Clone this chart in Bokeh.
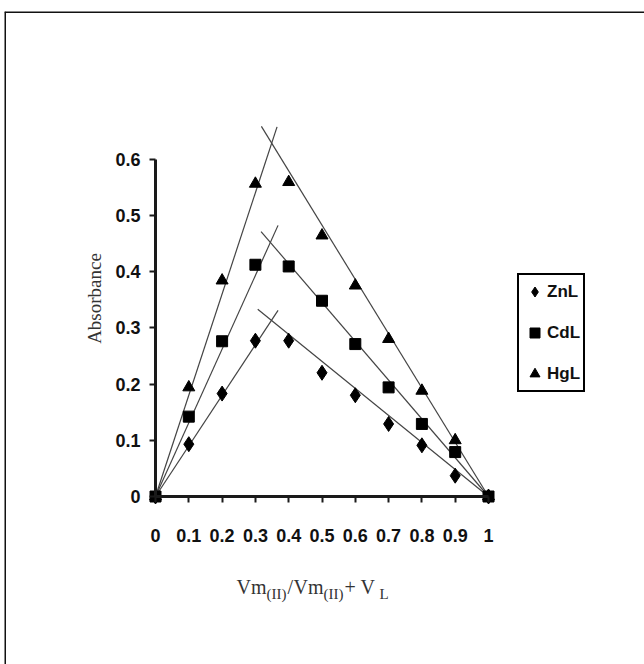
import math
from bokeh.plotting import figure
from bokeh.models import Range1d, FixedTicker, Legend, LegendItem, Label, Span
from bokeh.embed import file_html
from bokeh.resources import INLINE

# ---------------- data ----------------
mole_fraction = [0, 0.1, 0.2, 0.3, 0.4, 0.5, 0.6, 0.7, 0.8, 0.9, 1.0]
znl = [0, 0.093, 0.183, 0.277, 0.277, 0.220, 0.180, 0.129, 0.091, 0.037, 0]
cdl = [0, 0.142, 0.276, 0.412, 0.409, 0.348, 0.271, 0.194, 0.129, 0.079, 0]
hgl = [0, 0.194, 0.384, 0.556, 0.559, 0.464, 0.375, 0.280, 0.188, 0.100, 0]

# fitted straight lines (endpoints)
zn_rise_x, zn_rise_y = [0, 0.368], [0, 0.331]
zn_fall_x, zn_fall_y = [0.307, 1.0], [0.333, 0]
cd_rise_x, cd_rise_y = [0, 0.368], [0, 0.482]
cd_fall_x, cd_fall_y = [0.317, 1.0], [0.471, 0]
hg_rise_x, hg_rise_y = [0, 0.365], [0, 0.657]
hg_fall_x, hg_fall_y = [0.318, 1.0], [0.658, 0]

x_ticks = [0, 0.1, 0.2, 0.3, 0.4, 0.5, 0.6, 0.7, 0.8, 0.9, 1.0]
x_tick_labels = ["0", "0.1", "0.2", "0.3", "0.4", "0.5", "0.6", "0.7", "0.8", "0.9", "1"]
y_ticks = [0, 0.1, 0.2, 0.3, 0.4, 0.5, 0.6]
y_tick_labels = ["0", "0.1", "0.2", "0.3", "0.4", "0.5", "0.6"]

series_names = ["ZnL", "CdL", "HgL"]

# ---------------- layout (pixels) ----------------
W, H = 644, 664
FL, FT = 4, 11            # frame left / top
X0PX, XPX = 155.0, 333.0  # pixel of x=0, pixels per unit x
Y0PX, YPX = 496.0, 562.5  # pixel of y=0, pixels per unit y


def dx(px):
    return (px - X0PX) / XPX


def dy(py):
    return (Y0PX - py) / YPX


x_range = Range1d(dx(FL), dx(W))
y_range = Range1d(dy(H), dy(FT))

p = figure(width=W, height=H, x_range=x_range, y_range=y_range,
           output_backend="svg", toolbar_location=None,
           min_border_left=FL, min_border_top=FT,
           min_border_right=0, min_border_bottom=0)
p.grid.visible = False
p.outline_line_color = None
p.background_fill_color = "white"
p.border_fill_color = "white"

# outer frame (top and left edges)
p.add_layout(Span(location=dx(FL), dimension="height", line_color="#111111",
                  line_alpha=1, line_width=3))
p.add_layout(Span(location=dy(FT), dimension="width", line_color="#111111",
                  line_alpha=1, line_width=3))

TICK_FONT = "'Liberation Sans Narrow', 'Liberation Sans', Arial, sans-serif"

for ax in (p.xaxis[0], p.yaxis[0]):
    ax.fixed_location = 0
    ax.axis_line_color = "#1a1a1a"
    ax.axis_line_width = 3
    ax.major_tick_line_color = "#1a1a1a"
    ax.major_tick_line_width = 2
    ax.major_tick_in = 0
    ax.major_tick_out = 6
    ax.minor_tick_line_color = None
    ax.major_label_text_font = TICK_FONT
    ax.major_label_text_font_style = "bold"
    ax.major_label_text_font_size = "18px"
    ax.major_label_text_color = "#111111"

p.xaxis.bounds = (0, 1)
p.yaxis.bounds = (0, 0.6)
p.xaxis.ticker = FixedTicker(ticks=x_ticks, minor_ticks=[])
p.yaxis.ticker = FixedTicker(ticks=y_ticks, minor_ticks=[])
p.xaxis.major_label_overrides = dict(zip(x_ticks, x_tick_labels))
p.yaxis.major_label_overrides = dict(zip(y_ticks, y_tick_labels))
p.xaxis.major_label_standoff = 26
p.yaxis.major_label_standoff = 9

# fitted lines
LINE_COL = "#444444"
for xs, ys in [(zn_rise_x, zn_rise_y), (zn_fall_x, zn_fall_y),
               (cd_rise_x, cd_rise_y), (cd_fall_x, cd_fall_y),
               (hg_rise_x, hg_rise_y), (hg_fall_x, hg_fall_y)]:
    p.line(xs, ys, line_color=LINE_COL, line_width=1.2)

# markers
r_zn = p.scatter(mole_fraction, znl, marker="diamond", size=15, color="black")
r_cd = p.scatter(mole_fraction, cdl, marker="square", size=11, color="black")
r_hg = p.scatter(mole_fraction, hgl, marker="triangle", size=12, color="black")

legend = Legend(items=[LegendItem(label=series_names[0], renderers=[r_zn]),
                       LegendItem(label=series_names[1], renderers=[r_cd]),
                       LegendItem(label=series_names[2], renderers=[r_hg])],
                location=(513, 272))
legend.border_line_color = "black"
legend.border_line_alpha = 1
legend.border_line_width = 2
legend.background_fill_color = "white"
legend.background_fill_alpha = 1
legend.padding = 3
legend.spacing = 14
legend.margin = 0
legend.label_height = 27
legend.glyph_height = 27
legend.glyph_width = 25
legend.label_standoff = 0
legend.label_text_font = TICK_FONT
legend.label_text_font_style = "bold"
legend.label_text_font_size = "17px"
legend.label_text_color = "#111111"
p.add_layout(legend)

SERIF = "'Liberation Serif', 'Times New Roman', serif"

# y-axis title
p.add_layout(Label(x=dx(94), y=dy(298), text="Absorbance", angle=math.pi / 2,
                   text_align="center", text_baseline="middle",
                   text_font=SERIF, text_font_size="19px", text_color="#333333"))

# x-axis title pieces: Vm(II)/Vm(II)+VL with subscripts
pieces = [  # (text, px_left, is_sub)
    ("Vm", 236, False), ("(II)", 266, True), ("/", 287, False),
    ("Vm", 293, False), ("(II)", 323, True), ("+", 344, False),
    ("V", 360, False), ("L", 379, True),
]
for txt, pxl, sub in pieces:
    p.add_layout(Label(x=dx(pxl), y=dy(593 if sub else 586), text=txt,
                       text_align="left", text_baseline="alphabetic",
                       text_font=SERIF,
                       text_font_size="15px" if sub else "20px",
                       text_color="#333333"))

open("out.html", "w").write(file_html(p, INLINE))
